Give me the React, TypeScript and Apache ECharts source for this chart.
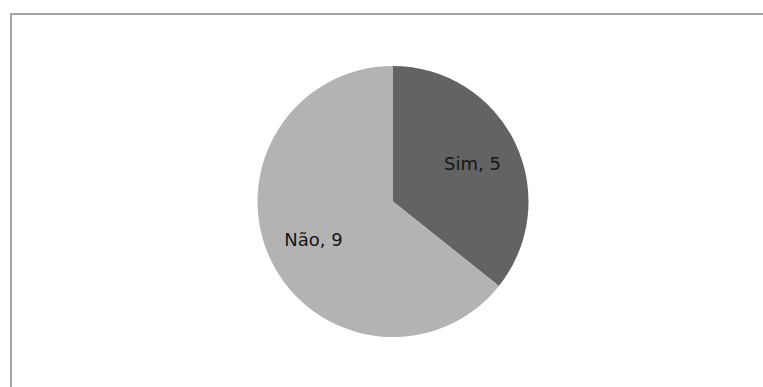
import React, { useEffect, useRef } from "react";
import * as echarts from "echarts";

const categories = ["Sim", "Não"];
const values = [5, 9];
const colors = ["#636363", "#b3b3b3"];

export default function App() {
  const ref = useRef<HTMLDivElement>(null);
  useEffect(() => {
    if (!ref.current) return;
    const chart = echarts.init(ref.current, undefined, { renderer: "svg" });
    const data = categories.map((name, i) => ({ name, value: values[i] }));
    chart.setOption({
      animation: false,
      backgroundColor: "#ffffff",
      graphic: [
        {
          type: "rect",
          shape: { x: 11, y: 14, width: 800, height: 420 },
          style: { fill: "none", stroke: "#a5a5a5", lineWidth: 2 },
          silent: true,
        },
      ],
      series: [
        {
          type: "pie",
          center: [393, 201.5],
          radius: [0, 135.5],
          startAngle: 90,
          clockwise: true,
          label: { show: false },
          labelLine: { show: false },
          emphasis: { disabled: true },
          silent: true,
          data: data.map((d, i) => ({ ...d, itemStyle: { color: colors[i] } })),
        },
        {
          type: "pie",
          center: [393, 201.5],
          radius: [35, 135.5],
          startAngle: 90,
          clockwise: true,
          silent: true,
          emphasis: { disabled: true },
          itemStyle: { color: "transparent" },
          label: {
            show: true,
            position: "inside",
            formatter: "{b}, {c}",
            fontFamily: "DejaVu Sans",
            fontSize: 18,
            color: "#151515",
          },
          labelLine: { show: false },
          data,
        },
      ],
    });
    return () => chart.dispose();
  }, []);
  return (
    <div
      ref={ref}
      style={{ position: "fixed", left: 0, top: 0, width: 763, height: 387 }}
    />
  );
}
